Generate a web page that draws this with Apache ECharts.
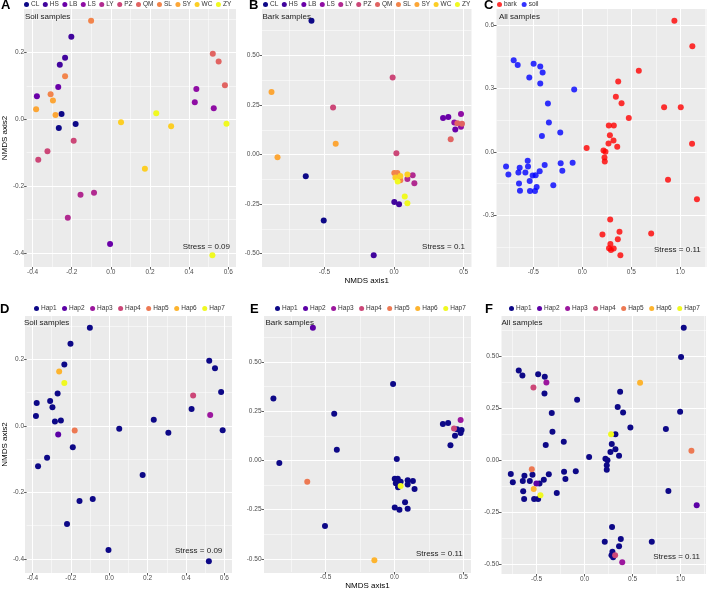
<!DOCTYPE html>
<html><head><meta charset="utf-8">
<script src="https://cdn.jsdelivr.net/npm/echarts@6/dist/echarts.min.js"></script>
<style>html,body{margin:0;padding:0;background:#fff}#c{width:708px;height:591px}</style>
</head><body><div id="c"></div>
<script>
// ---------- DATA ----------
const siteNames = ['CL','HS','LB','LS','LY','PZ','QM','SL','SY','WC','ZY'];
const siteColors = ['#0D0887','#41049D','#6A00A8','#8F0DA4','#B12A90','#CC4778','#E16462','#F2844B','#FCA636','#FCCE25','#F0F921'];
const hapNames = ['Hap1','Hap2','Hap3','Hap4','Hap5','Hap6','Hap7'];
const hapColors = ['#0D0887','#5C01A6','#9C179E','#CC4778','#ED7953','#FDB42F','#F0F921'];
const typeNames = ['bark','soil'];
const typeColors = ['#FF0000','#0000FF'];

// Soil samples (panels A & D)
const soilX = [-0.101,-0.202,-0.234,-0.261,-0.234,-0.269,-0.378,-0.308,-0.296,-0.382,-0.283,-0.252,-0.266,-0.180,-0.190,-0.324,-0.371,-0.155,-0.086,-0.220,-0.004,0.052,0.232,0.308,0.174,0.521,0.551,0.583,0.437,0.429,0.526,0.591,0.519];
const soilY = [0.295,0.247,0.184,0.163,0.129,0.097,0.069,0.075,0.056,0.030,0.013,0.016,-0.026,-0.014,-0.064,-0.096,-0.121,-0.226,-0.220,-0.295,-0.373,-0.009,0.018,-0.021,-0.148,0.196,0.173,0.102,0.091,0.051,0.033,-0.013,-0.407];
const soilSite = ['SL','HS','HS','HS','SL','LB','LB','SL','SY','SY','SY','CL','CL','CL','PZ','PZ','PZ','LY','LY','LY','LB','WC','ZY','WC','WC','QM','QM','QM','LS','LS','LS','ZY','ZY'];
const soilHap = ['Hap1','Hap1','Hap1','Hap6','Hap7','Hap1','Hap1','Hap1','Hap1','Hap1','Hap1','Hap1','Hap2','Hap5','Hap1','Hap1','Hap1','Hap1','Hap1','Hap1','Hap1','Hap1','Hap1','Hap1','Hap1','Hap1','Hap1','Hap1','Hap4','Hap1','Hap3','Hap1','Hap1'];

// Bark samples (panels B & E)
const barkX = [-0.593,-0.880,-0.438,-0.010,-0.419,-0.837,-0.634,-0.505,-0.146,0.017,0.352,0.390,0.481,0.433,0.455,0.488,0.481,0.440,0.407,0.002,0.024,0.010,0.026,0.045,0.045,0.096,0.096,0.134,0.146,0.077,0.096,0.002,0.036];
const barkY = [0.675,0.315,0.237,0.389,0.054,-0.013,-0.109,-0.333,-0.508,0.007,0.185,0.190,0.205,0.162,0.158,0.155,0.140,0.126,0.077,-0.093,-0.093,-0.116,-0.136,-0.108,-0.130,-0.101,-0.123,-0.104,-0.145,-0.212,-0.246,-0.239,-0.251];
const barkSite = ['CL','SY','PZ','PZ','SY','SY','CL','CL','HS','PZ','LB','LB','LS','LS','QM','QM','LS','LB','QM','SL','SL','WC','ZY','WC','SL','WC','LY','LY','LY','ZY','ZY','HS','HS'];
const barkHap = ['Hap2','Hap1','Hap1','Hap1','Hap1','Hap1','Hap5','Hap1','Hap6','Hap1','Hap1','Hap1','Hap3','Hap4','Hap1','Hap1','Hap1','Hap1','Hap1','Hap1','Hap1','Hap1','Hap1','Hap1','Hap7','Hap1','Hap1','Hap1','Hap1','Hap1','Hap1','Hap1','Hap1'];

// All samples, panel C
const cSoilX = [-0.700,-0.659,-0.497,-0.429,-0.405,-0.541,-0.429,-0.083,-0.351,-0.341,-0.412,-0.225,-0.778,-0.754,-0.639,-0.652,-0.581,-0.557,-0.554,-0.646,-0.636,-0.537,-0.534,-0.483,-0.507,-0.476,-0.466,-0.435,-0.384,-0.296,-0.221,-0.204,-0.099];
const cSoilY = [0.433,0.410,0.416,0.403,0.375,0.351,0.323,0.294,0.228,0.139,0.075,0.092,-0.069,-0.107,-0.075,-0.097,-0.097,-0.042,-0.069,-0.149,-0.184,-0.137,-0.185,-0.185,-0.111,-0.110,-0.166,-0.091,-0.062,-0.158,-0.054,-0.089,-0.051];
const cBarkX = [0.939,1.122,0.576,0.366,0.342,0.400,0.474,0.270,0.321,0.281,0.318,0.267,0.356,0.044,0.216,0.236,0.226,0.229,0.834,1.004,1.119,0.874,1.169,0.284,0.379,0.205,0.702,0.362,0.286,0.272,0.292,0.320,0.388];
const cBarkY = [0.619,0.499,0.383,0.332,0.260,0.230,0.160,0.125,0.125,0.079,0.054,0.040,0.024,0.018,0.007,0.001,-0.026,-0.045,0.211,0.211,0.038,-0.132,-0.223,-0.319,-0.377,-0.390,-0.385,-0.412,-0.435,-0.455,-0.463,-0.456,-0.488];

// All samples, panel F
const fSoilX = [-0.686,-0.648,-0.484,-0.415,-0.398,-0.533,-0.418,-0.078,-0.342,-0.335,-0.405,-0.217,-0.769,-0.748,-0.627,-0.644,-0.571,-0.550,-0.543,-0.640,-0.630,-0.530,-0.526,-0.484,-0.502,-0.470,-0.460,-0.425,-0.373,-0.290,-0.214,-0.200,-0.092];
const fSoilY = [0.433,0.409,0.414,0.402,0.375,0.351,0.322,0.292,0.228,0.138,0.074,0.090,-0.065,-0.105,-0.073,-0.098,-0.098,-0.042,-0.068,-0.148,-0.185,-0.137,-0.185,-0.185,-0.111,-0.111,-0.167,-0.092,-0.066,-0.156,-0.054,-0.089,-0.052];
const fSoilHap = ['Hap1','Hap1','Hap1','Hap1','Hap3','Hap4','Hap1','Hap1','Hap1','Hap1','Hap1','Hap1','Hap1','Hap1','Hap1','Hap1','Hap1','Hap5','Hap1','Hap1','Hap1','Hap6','Hap1','Hap1','Hap2','Hap1','Hap7','Hap1','Hap1','Hap1','Hap1','Hap1','Hap1'];
const fBarkX = [1.033,1.005,0.578,0.370,0.345,0.401,0.477,0.276,0.321,0.283,0.321,0.269,0.359,0.047,0.217,0.238,0.231,0.231,0.995,0.847,1.113,0.873,1.168,0.286,0.377,0.210,0.700,0.359,0.290,0.280,0.297,0.318,0.392];
const fBarkY = [0.638,0.497,0.374,0.330,0.257,0.231,0.159,0.126,0.126,0.079,0.054,0.041,0.023,0.017,0.009,0.001,-0.023,-0.044,0.234,0.151,0.047,-0.146,-0.215,-0.319,-0.377,-0.390,-0.390,-0.412,-0.438,-0.455,-0.465,-0.455,-0.489];
const fBarkHap = ['Hap1','Hap1','Hap6','Hap1','Hap1','Hap1','Hap1','Hap7','Hap1','Hap1','Hap1','Hap1','Hap1','Hap1','Hap1','Hap1','Hap1','Hap1','Hap1','Hap1','Hap5','Hap1','Hap2','Hap1','Hap1','Hap1','Hap1','Hap1','Hap1','Hap1','Hap1','Hap4','Hap3'];

// Tick labels (major tick steps per axis)
const soilXTicks = [-0.4,-0.2,0,0.2,0.4,0.6];
const soilYTicks = [-0.4,-0.2,0,0.2];
const barkXTicks = [-0.5,0,0.5];
const barkYTicks = [-0.5,-0.25,0,0.25,0.5];
const allXTicks = [-0.5,0,0.5,1.0];
const allYTicksC = [-0.3,0,0.3,0.6];
const allYTicksF = [-0.5,-0.25,0,0.25,0.5];

// ---------- BUILD ----------
const FONT = '"Liberation Sans", Arial, sans-serif';
function ext(arr){ const mn=Math.min(...arr), mx=Math.max(...arr), r=mx-mn; return [mn-0.05*r, mx+0.05*r]; }
function fmt(v,d){ if(Math.abs(v)<1e-9) return (0).toFixed(d); return (v<0?'-':'')+Math.abs(v).toFixed(d); }
function step(t){ return Math.round((t[1]-t[0])*1000)/1000; }
function dec(t){ return Math.max(...t.map(v=>{const s=String(Math.abs(v)); return s.indexOf('.')<0?1:s.split('.')[1].length;})); }

const panels = [
 {grid:{left:24,top:9,width:212,height:258}, sets:[{xs:soilX,ys:soilY,g:soilSite}], names:siteNames, colors:siteColors,
  xT:soilXTicks,yT:soilYTicks, yName:'NMDS axis2', xName:'', label:'Soil samples', labelPos:[25,16.7],
  stress:'Stress = 0.09', stressPos:[230,246.7], letter:'A', letterPos:[1,5.5], legend:{left:24,top:1}},
 {grid:{left:262,top:9,width:209.5,height:258}, sets:[{xs:barkX,ys:barkY,g:barkSite}], names:siteNames, colors:siteColors,
  xT:barkXTicks,yT:barkYTicks, yName:'', xName:'NMDS axis1', label:'Bark samples', labelPos:[262.5,16.7],
  stress:'Stress = 0.1', stressPos:[465,246.7], letter:'B', letterPos:[249,5.5], legend:{left:263,top:1}},
 {grid:{left:496.5,top:9,width:210,height:258}, sets:[{xs:cBarkX,ys:cBarkY,g:cBarkX.map(()=> 'bark')},{xs:cSoilX,ys:cSoilY,g:cSoilX.map(()=> 'soil')}], names:typeNames, colors:typeColors, opacity:0.8,
  xT:allXTicks,yT:allYTicksC, yName:'', xName:'', label:'All samples', labelPos:[499,16.7],
  stress:'Stress = 0.11', stressPos:[700.7,250], letter:'C', letterPos:[484,5.5], legend:{left:497,top:1}},
 {grid:{left:25,top:316,width:207,height:257}, sets:[{xs:soilX,ys:soilY,g:soilHap}], names:hapNames, colors:hapColors,
  xT:soilXTicks,yT:soilYTicks, yName:'NMDS axis2', xName:'', label:'Soil samples', labelPos:[24,322.7],
  stress:'Stress = 0.09', stressPos:[222.3,551], letter:'D', letterPos:[0,309], legend:{left:34,top:305}},
 {grid:{left:264,top:316,width:207,height:257}, sets:[{xs:barkX,ys:barkY,g:barkHap}], names:hapNames, colors:hapColors,
  xT:barkXTicks,yT:barkYTicks, yName:'', xName:'NMDS axis1', label:'Bark samples', labelPos:[265.5,322.3],
  stress:'Stress = 0.11', stressPos:[462.7,553.3], letter:'E', letterPos:[250,309], legend:{left:275,top:305}},
 {grid:{left:501.5,top:316,width:204.5,height:258}, sets:[{xs:fSoilX.concat(fBarkX),ys:fSoilY.concat(fBarkY),g:fSoilHap.concat(fBarkHap)}], names:hapNames, colors:hapColors,
  xT:allXTicks,yT:allYTicksF, yName:'', xName:'', label:'All samples', labelPos:[501.5,322.7],
  stress:'Stress = 0.11', stressPos:[700,556.7], letter:'F', letterPos:[485,309], legend:{left:509,top:305}}
];

const grids=[], xAxes=[], yAxes=[], series=[], legends=[], graphics=[];
function axis(gi, extent, ticks, name, isY){
  const st = step(ticks), d = dec(ticks);
  return {
    type:'value', gridIndex:gi, min:extent[0], max:extent[1], minInterval:st, maxInterval:st, z:3,
    axisLine:{show:false, onZero:false},
    axisTick:{show:true, length:2.5, lineStyle:{color:'#333333', width:0.8}},
    axisLabel:{show:true, showMinLabel:false, showMaxLabel:false, fontSize:6.5, fontFamily:FONT, color:'#4D4D4D', margin:isY?2.5:2, formatter:v=>fmt(v,d)},
    splitLine:{show:true, showMinLine:false, showMaxLine:false, lineStyle:{color:'#FFFFFF', width:1, opacity:1}},
    minorTick:{show:false, splitNumber:2},
    minorSplitLine:{show:true, lineStyle:{color:'#FFFFFF', width:0.5, opacity:1}},
    name:name, nameLocation:'middle', nameGap:isY?14.5:10,
    nameTextStyle:{fontSize:8, fontFamily:FONT, color:'#000'}
  };
}
panels.forEach((p,i)=>{
  grids.push(Object.assign({show:false, containLabel:false}, p.grid));
  graphics.push({type:'rect', z:-100, silent:true, shape:{x:p.grid.left, y:p.grid.top, width:p.grid.width, height:p.grid.height}, style:{fill:'#EBEBEB'}});
  const allX=[].concat(...p.sets.map(s=>s.xs)), allY=[].concat(...p.sets.map(s=>s.ys));
  xAxes.push(axis(i, ext(allX), p.xT, p.xName, false));
  yAxes.push(axis(i, ext(allY), p.yT, p.yName, true));
  p.names.forEach((n,k)=>{
    const data=[];
    p.sets.forEach(s=>s.xs.forEach((x,j)=>{ if(s.g[j]===n) data.push([x,s.ys[j]]); }));
    series.push({type:'scatter', name:n, xAxisIndex:i, yAxisIndex:i, data, symbol:'circle', symbolSize:6,
      itemStyle:{color:p.colors[k], opacity:p.opacity||1}, silent:true, animation:false, z:5});
  });
  legends.push({left:p.legend.left, top:p.legend.top, orient:'horizontal', padding:0, itemGap: p.names.length>7?3.5:(p.names.length>2?5.5:5),
    itemWidth:5, itemHeight:5, icon:'circle', data:p.names.slice(), selectedMode:false,
    textStyle:{fontSize:6.5, fontFamily:FONT, color:'#333', padding:[0,0,0,-3]}});
  graphics.push({type:'text', z:50, x:p.letterPos[0], y:p.letterPos[1], style:{text:p.letter, font:'bold 13px '+FONT, fill:'#000', align:'left', verticalAlign:'middle'}});
  graphics.push({type:'text', z:50, x:p.labelPos[0], y:p.labelPos[1], style:{text:p.label, font:'8px '+FONT, fill:'#222', align:'left', verticalAlign:'middle'}});
  graphics.push({type:'text', z:50, x:p.stressPos[0], y:p.stressPos[1], style:{text:p.stress, font:'8px '+FONT, fill:'#222', align:'right', verticalAlign:'middle'}});
});

const chart = echarts.init(document.getElementById('c'), null, {renderer:'canvas', width:708, height:591});
chart.setOption({
  animation:false, backgroundColor:'#FFFFFF',
  grid:grids, xAxis:xAxes, yAxis:yAxes, series:series, legend:legends,
  graphic:{elements:graphics}
});
</script>
</body></html>
